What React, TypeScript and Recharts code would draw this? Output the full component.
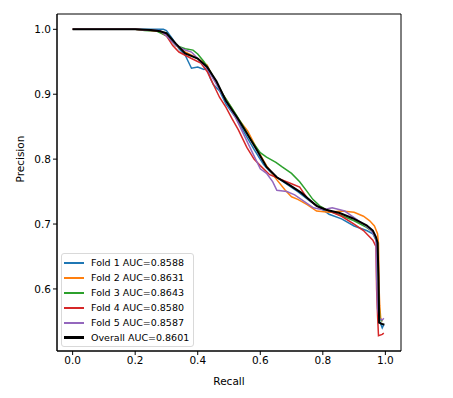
import { LineChart, Line, XAxis, YAxis, ReferenceArea } from 'recharts';

const fold1Recall = [0, 0.2, 0.29, 0.3, 0.32, 0.34, 0.36, 0.37, 0.38, 0.4, 0.42, 0.43, 0.44, 0.45, 0.47, 0.49, 0.52, 0.55, 0.58, 0.61, 0.64, 0.68, 0.72, 0.76, 0.8, 0.82, 0.86, 0.9, 0.94, 0.96, 0.97, 0.975, 0.978, 0.982, 0.99, 0.995];
const fold1Precision = [1, 1, 1, 0.998, 0.985, 0.97, 0.96, 0.95, 0.94, 0.942, 0.938, 0.94, 0.925, 0.915, 0.905, 0.885, 0.865, 0.84, 0.815, 0.792, 0.776, 0.763, 0.75, 0.735, 0.722, 0.715, 0.708, 0.697, 0.69, 0.685, 0.675, 0.665, 0.6, 0.55, 0.54, 0.545];

const fold2Recall = [0, 0.2, 0.27, 0.3, 0.33, 0.36, 0.38, 0.4, 0.43, 0.45, 0.48, 0.5, 0.53, 0.56, 0.59, 0.62, 0.65, 0.68, 0.7, 0.72, 0.75, 0.78, 0.82, 0.86, 0.9, 0.93, 0.95, 0.965, 0.975, 0.978, 0.98, 0.982, 0.985, 0.99];
const fold2Precision = [1, 1, 0.998, 0.99, 0.975, 0.965, 0.96, 0.955, 0.945, 0.925, 0.9, 0.885, 0.862, 0.843, 0.815, 0.79, 0.77, 0.752, 0.742, 0.738, 0.73, 0.72, 0.718, 0.72, 0.718, 0.712, 0.705, 0.697, 0.685, 0.67, 0.6, 0.575, 0.555, 0.55];

const fold3Recall = [0, 0.2, 0.23, 0.27, 0.3, 0.33, 0.36, 0.385, 0.4, 0.42, 0.44, 0.46, 0.48, 0.51, 0.54, 0.57, 0.6, 0.62, 0.65, 0.67, 0.7, 0.726, 0.75, 0.768, 0.79, 0.82, 0.86, 0.9, 0.94, 0.96, 0.975, 0.978, 0.982, 0.99];
const fold3Precision = [1, 1, 0.998, 0.997, 0.99, 0.975, 0.97, 0.968, 0.962, 0.95, 0.935, 0.918, 0.9, 0.878, 0.855, 0.83, 0.81, 0.803, 0.795, 0.788, 0.778, 0.765, 0.75, 0.738, 0.728, 0.72, 0.713, 0.705, 0.695, 0.688, 0.672, 0.6, 0.555, 0.55];

const fold4Recall = [0, 0.2, 0.28, 0.3, 0.32, 0.34, 0.36, 0.38, 0.41, 0.43, 0.45, 0.47, 0.49, 0.51, 0.53, 0.557, 0.58, 0.6, 0.63, 0.66, 0.7, 0.726, 0.75, 0.78, 0.82, 0.86, 0.9, 0.93, 0.96, 0.97, 0.972, 0.975, 0.978, 0.99, 0.995];
const fold4Precision = [1, 1, 0.997, 0.99, 0.975, 0.965, 0.96, 0.955, 0.948, 0.935, 0.915, 0.895, 0.88, 0.862, 0.845, 0.818, 0.8, 0.79, 0.776, 0.77, 0.762, 0.757, 0.74, 0.728, 0.72, 0.712, 0.7, 0.69, 0.675, 0.665, 0.6, 0.56, 0.528, 0.53, 0.532];

const fold5Recall = [0, 0.2, 0.28, 0.3, 0.33, 0.36, 0.38, 0.4, 0.43, 0.46, 0.49, 0.52, 0.55, 0.58, 0.6, 0.62, 0.64, 0.653, 0.685, 0.71, 0.74, 0.77, 0.8, 0.83, 0.87, 0.9, 0.93, 0.955, 0.97, 0.972, 0.975, 0.98, 0.99, 0.995];
const fold5Precision = [1, 1, 0.998, 0.99, 0.975, 0.968, 0.965, 0.955, 0.94, 0.915, 0.89, 0.865, 0.835, 0.805, 0.785, 0.778, 0.765, 0.752, 0.75, 0.745, 0.735, 0.725, 0.722, 0.725, 0.72, 0.71, 0.7, 0.69, 0.678, 0.62, 0.57, 0.555, 0.552, 0.555];

const overallRecall = [0, 0.2, 0.25, 0.28, 0.3, 0.33, 0.36, 0.4, 0.43, 0.46, 0.49, 0.525, 0.557, 0.589, 0.62, 0.653, 0.694, 0.732, 0.758, 0.78, 0.81, 0.854, 0.895, 0.94, 0.96, 0.97, 0.975, 0.978, 0.98, 0.99, 0.997];
const overallPrecision = [1, 1, 0.999, 0.997, 0.994, 0.978, 0.963, 0.955, 0.942, 0.92, 0.89, 0.865, 0.84, 0.814, 0.788, 0.772, 0.76, 0.748, 0.737, 0.728, 0.722, 0.717, 0.709, 0.698, 0.69, 0.68, 0.671, 0.62, 0.548, 0.546, 0.545];

const seriesNames = ['Fold 1 AUC=0.8588', 'Fold 2 AUC=0.8631', 'Fold 3 AUC=0.8643', 'Fold 4 AUC=0.8580', 'Fold 5 AUC=0.8587', 'Overall AUC=0.8601'];
const seriesColors = ['#1f77b4', '#ff7f0e', '#2ca02c', '#d62728', '#9467bd', '#000000'];
const xTicks = [0, 0.2, 0.4, 0.6, 0.8, 1.0];
const yTicks = [0.6, 0.7, 0.8, 0.9, 1.0];

const toPoints = (xs: number[], ys: number[]) => xs.map((x, i) => ({ x, y: ys[i] }));

const series = [
  toPoints(fold1Recall, fold1Precision),
  toPoints(fold2Recall, fold2Precision),
  toPoints(fold3Recall, fold3Precision),
  toPoints(fold4Recall, fold4Precision),
  toPoints(fold5Recall, fold5Precision),
  toPoints(overallRecall, overallPrecision),
];

const FONT = 'DejaVu Sans, sans-serif';

// legend drawn as an overlay, matplotlib style (lower left of the axes)
function LegendBox() {
  return (
    <div
      style={{
        position: 'absolute',
        left: 61,
        top: 253,
        border: '1px solid #d9d9d9',
        borderRadius: 3,
        background: 'rgba(255,255,255,0.8)',
        padding: '1px 4px 1px 2px',
        fontFamily: FONT,
        fontSize: 9.5,
        color: '#000',
      }}
    >
      {seriesNames.map((name, i) => (
        <div key={name} style={{ display: 'flex', alignItems: 'center', height: 15 }}>
          <span
            style={{
              display: 'inline-block',
              width: 20,
              height: i === 5 ? 3 : 2,
              background: seriesColors[i],
              marginRight: 7,
            }}
          />
          <span>{name}</span>
        </div>
      ))}
    </div>
  );
}

export default function App() {
  return (
    <div style={{ position: 'absolute', left: 0, top: 0, width: 453, height: 398, background: '#fff' }}>
      <LineChart width={453} height={398} margin={{ top: 14, right: 52, left: 0, bottom: 0 }}>
        <XAxis
          dataKey="x"
          type="number"
          domain={[-0.05, 1.05]}
          ticks={xTicks}
          tickFormatter={(v: number) => v.toFixed(1)}
          allowDataOverflow
          height={47}
          tickSize={4}
          tick={{ fill: '#000', fontSize: 10.5, fontFamily: FONT }}
          axisLine={{ stroke: '#000' }}
          tickLine={{ stroke: '#000' }}
          label={{ value: 'Recall', position: 'insideBottom', offset: 13, fill: '#000', fontSize: 10.5, fontFamily: FONT }}
        />
        <YAxis
          type="number"
          domain={[0.5044, 1.0236]}
          ticks={yTicks}
          tickFormatter={(v: number) => v.toFixed(1)}
          allowDataOverflow
          width={57}
          tickSize={4}
          tick={{ fill: '#000', fontSize: 10.5, fontFamily: FONT }}
          axisLine={{ stroke: '#000' }}
          tickLine={{ stroke: '#000' }}
          label={{ value: 'Precision', angle: -90, position: 'insideLeft', offset: 20, fill: '#000', fontSize: 10.5, fontFamily: FONT }}
        />
        <ReferenceArea x1={-0.05} x2={1.05} y1={0.5044} y2={1.0236} fill="none" stroke="#000" strokeWidth={1} ifOverflow="visible" />
        {series.map((data, i) => (
          <Line
            key={seriesNames[i]}
            data={data}
            dataKey="y"
            name={seriesNames[i]}
            type="linear"
            stroke={seriesColors[i]}
            strokeWidth={i === 5 ? 2 : 1.5}
            dot={false}
            isAnimationActive={false}
          />
        ))}
      </LineChart>
      <LegendBox />
    </div>
  );
}
